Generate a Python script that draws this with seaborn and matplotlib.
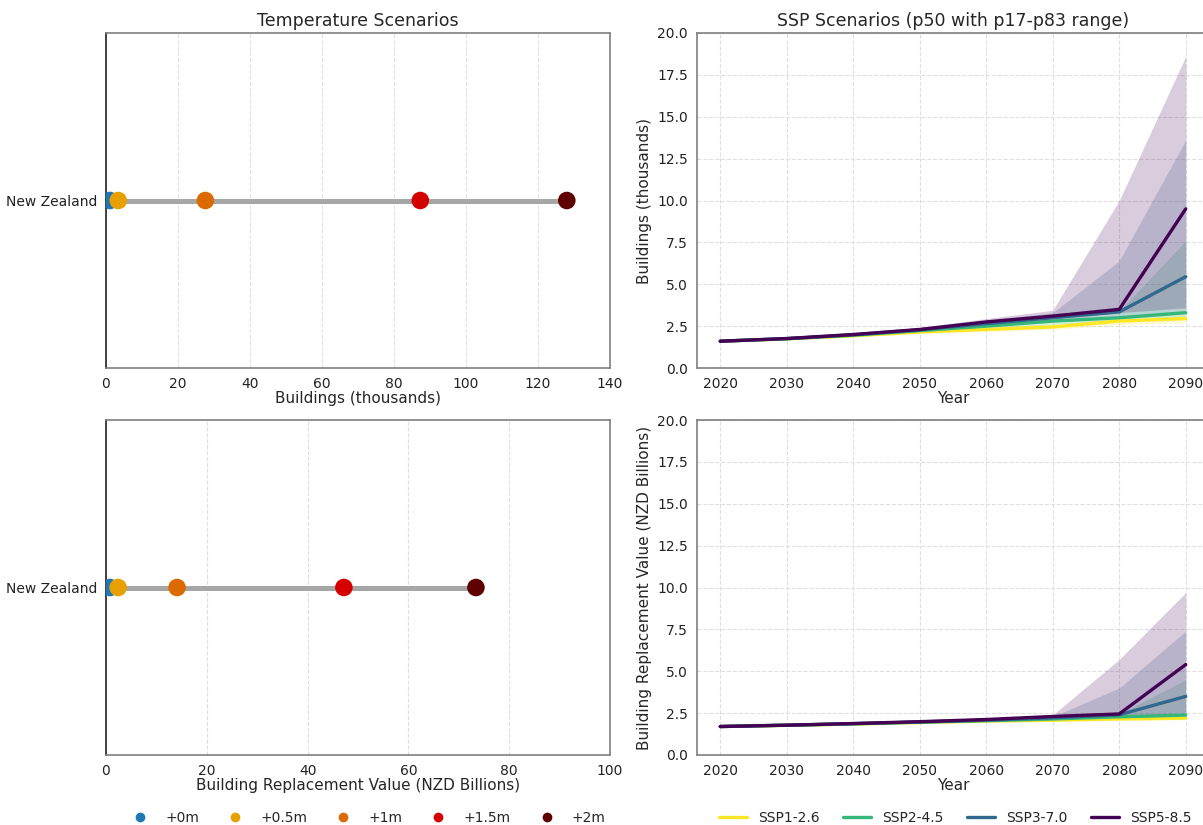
import numpy as np
import pandas as pd
import matplotlib
matplotlib.use("Agg")
import matplotlib.pyplot as plt
import seaborn as sns
from matplotlib.lines import Line2D

sns.set_style("white")
plt.rcParams["font.family"] = ["DejaVu Sans"]

# ---- Temperature (sea-level rise) scenarios ----
region = "New Zealand"
rise_labels = ["+0m", "+0.5m", "+1m", "+1.5m", "+2m"]
rise_colors = ["#1f77b4", "#e8a000", "#dd6a00", "#d40000", "#5e0000"]
buildings_k = [1.1, 3.4, 27.6, 87.3, 128.0]
value_bn = [0.8, 2.4, 14.1, 47.2, 73.4]

# ---- SSP scenarios (median with p17-p83 range) ----
years = [2020, 2030, 2040, 2050, 2060, 2070, 2080, 2090]
ssp_names = ["SSP1-2.6", "SSP2-4.5", "SSP3-7.0", "SSP5-8.5"]
ssp_colors = ["#fde725", "#35b779", "#31688e", "#440154"]

bld_p50 = {
    "SSP1-2.6": [1.6, 1.74, 1.92, 2.15, 2.3, 2.45, 2.8, 2.95],
    "SSP2-4.5": [1.6, 1.75, 1.96, 2.23, 2.5, 2.8, 3.0, 3.3],
    "SSP3-7.0": [1.6, 1.75, 1.98, 2.28, 2.65, 3.0, 3.35, 5.45],
    "SSP5-8.5": [1.6, 1.76, 2.0, 2.3, 2.75, 3.1, 3.5, 9.5],
}
bld_p17 = {
    "SSP1-2.6": [1.58, 1.7, 1.86, 2.05, 2.18, 2.3, 2.6, 2.7],
    "SSP2-4.5": [1.58, 1.72, 1.9, 2.12, 2.35, 2.6, 2.8, 3.0],
    "SSP3-7.0": [1.58, 1.72, 1.93, 2.18, 2.5, 2.8, 3.1, 3.4],
    "SSP5-8.5": [1.58, 1.73, 1.95, 2.22, 2.6, 2.95, 3.3, 3.6],
}
bld_p83 = {
    "SSP1-2.6": [1.63, 1.78, 1.98, 2.25, 2.45, 2.65, 3.0, 3.2],
    "SSP2-4.5": [1.63, 1.79, 2.02, 2.33, 2.65, 3.0, 3.4, 7.6],
    "SSP3-7.0": [1.63, 1.8, 2.05, 2.38, 2.85, 3.3, 6.4, 13.6],
    "SSP5-8.5": [1.63, 1.8, 2.07, 2.42, 2.95, 3.45, 10.0, 18.6],
}

val_p50 = {
    "SSP1-2.6": [1.7, 1.77, 1.85, 1.94, 2.02, 2.08, 2.15, 2.2],
    "SSP2-4.5": [1.7, 1.78, 1.86, 1.96, 2.05, 2.15, 2.28, 2.38],
    "SSP3-7.0": [1.7, 1.78, 1.87, 1.97, 2.08, 2.22, 2.4, 3.5],
    "SSP5-8.5": [1.7, 1.78, 1.88, 1.99, 2.12, 2.3, 2.45, 5.4],
}
val_p17 = {
    "SSP1-2.6": [1.68, 1.75, 1.83, 1.9, 1.97, 2.02, 2.07, 2.1],
    "SSP2-4.5": [1.68, 1.76, 1.84, 1.92, 2.0, 2.08, 2.18, 2.25],
    "SSP3-7.0": [1.68, 1.76, 1.85, 1.94, 2.03, 2.15, 2.3, 2.4],
    "SSP5-8.5": [1.68, 1.76, 1.86, 1.96, 2.07, 2.22, 2.35, 2.5],
}
val_p83 = {
    "SSP1-2.6": [1.72, 1.79, 1.87, 1.97, 2.06, 2.13, 2.22, 2.3],
    "SSP2-4.5": [1.72, 1.8, 1.89, 1.99, 2.1, 2.22, 2.45, 4.5],
    "SSP3-7.0": [1.72, 1.8, 1.9, 2.01, 2.14, 2.3, 4.0, 7.4],
    "SSP5-8.5": [1.72, 1.8, 1.91, 2.03, 2.18, 2.4, 5.7, 9.7],
}

fig = plt.figure(figsize=(12.03, 8.25), dpi=100)
W, H = 1203, 825


def frac(left, top, right, bottom):
    return [left / W, 1 - bottom / H, (right - left) / W, (bottom - top) / H]


ax_tb = fig.add_axes(frac(106, 33, 610, 368))
ax_bb = fig.add_axes(frac(106, 420, 610, 755))
ax_ts = fig.add_axes(frac(697, 33, 1209, 368))
ax_bs = fig.add_axes(frac(697, 420, 1209, 755))

spine_col = "#7f7f7f"


def style_axes(ax):
    for s in ax.spines.values():
        s.set_color(spine_col)
        s.set_linewidth(1.2)
    ax.tick_params(axis="both", labelsize=10, colors="#222222",
                   length=4, width=1, color=spine_col, pad=2.5)


def dumbbell(ax, values, xlabel, xmax, title=None):
    df = pd.DataFrame({"region": [region] * len(values),
                       "value": values, "scenario": rise_labels})
    ax.plot([min(values), max(values)], [0, 0], color="#a6a6a6",
            lw=3.6, zorder=1, solid_capstyle="butt")
    sns.scatterplot(data=df, x="value", y=[0] * len(values), hue="scenario",
                    hue_order=rise_labels, palette=rise_colors, s=160,
                    edgecolor="none", legend=False, ax=ax, zorder=3)
    ax.set_ylim(-1, 1)
    ax.set_yticks([0])
    ax.set_yticklabels([region])
    ax.set_xlim(0, xmax)
    ax.set_xlabel(xlabel, fontsize=11, labelpad=0)
    ax.set_ylabel("")
    ax.grid(axis="x", linestyle="--", color="#e0e0e0", linewidth=0.8)
    ax.set_axisbelow(True)
    style_axes(ax)
    ax.spines["left"].set_color("#222222")
    if title:
        ax.set_title(title, fontsize=12.5, pad=5)


dumbbell(ax_tb, buildings_k, "Buildings (thousands)", 140,
         "Temperature Scenarios")
ax_tb.set_xticks(np.arange(0, 141, 20))
dumbbell(ax_bb, value_bn, "Building Replacement Value (NZD Billions)", 100)
ax_bb.set_xticks(np.arange(0, 101, 20))


def ssp_panel(ax, p50, p17, p83, ylabel, title=None):
    rows = []
    for name in ssp_names:
        for y, v in zip(years, p50[name]):
            rows.append({"Year": y, "value": v, "scenario": name})
    df = pd.DataFrame(rows)
    for name, col in zip(ssp_names, ssp_colors):
        ax.fill_between(years, p17[name], p83[name], color=col,
                        alpha=0.2, linewidth=0)
    sns.lineplot(data=df, x="Year", y="value", hue="scenario",
                 hue_order=ssp_names, palette=ssp_colors, linewidth=2.4,
                 legend=False, ax=ax)
    ax.set_ylim(0, 20)
    ax.set_yticks(np.arange(0, 20.1, 2.5))
    ax.set_yticklabels([f"{t:.1f}" for t in np.arange(0, 20.1, 2.5)])
    ax.set_xticks(years)
    ax.set_xlabel("Year", fontsize=11, labelpad=0)
    ax.set_ylabel(ylabel, fontsize=11)
    ax.grid(True, linestyle="--", color="#e0e0e0", linewidth=0.8)
    ax.set_axisbelow(True)
    style_axes(ax)
    if title:
        ax.set_title(title, fontsize=12.5, pad=5)


ssp_panel(ax_ts, bld_p50, bld_p17, bld_p83, "Buildings (thousands)",
          "SSP Scenarios (p50 with p17-p83 range)")
ssp_panel(ax_bs, val_p50, val_p17, val_p83,
          "Building Replacement Value (NZD Billions)")

# Legends below each column
rise_handles = [Line2D([], [], marker="o", linestyle="none", markersize=7,
                       markerfacecolor=c, markeredgecolor="none")
                for c in rise_colors]
fig.legend(rise_handles, rise_labels, loc="center",
           bbox_to_anchor=(366 / W, 1 - 818 / H), ncol=5, frameon=False,
           fontsize=10, columnspacing=1.6, handletextpad=0.8)

ssp_handles = [Line2D([], [], color=c, linewidth=2.4) for c in ssp_colors]
fig.legend(ssp_handles, ssp_names, loc="center",
           bbox_to_anchor=(955 / W, 1 - 818 / H), ncol=4, frameon=False,
           fontsize=10, columnspacing=1.7, handlelength=2.0)

fig.savefig("out.png", dpi=100)
